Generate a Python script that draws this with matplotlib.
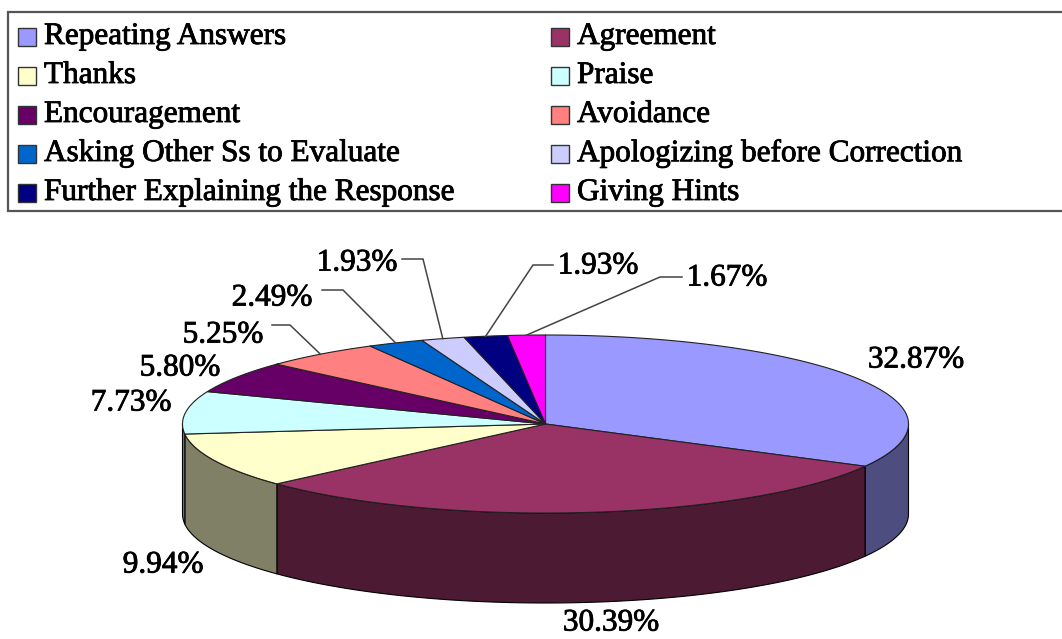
import numpy as np
import matplotlib
matplotlib.use("Agg")
import matplotlib.pyplot as plt
import matplotlib.patheffects as pe
from matplotlib.patches import Polygon, Rectangle
from matplotlib.colors import to_rgb

categories = ["Repeating Answers", "Agreement", "Thanks", "Praise", "Encouragement",
              "Avoidance", "Asking Other Ss to Evaluate", "Apologizing before Correction",
              "Further Explaining the Response", "Giving Hints"]
percents = [32.87, 30.39, 9.94, 7.73, 5.80, 5.25, 2.49, 1.93, 1.93, 1.67]
colors = ["#9999FF", "#993366", "#FFFFCC", "#CCFFFF", "#660066",
          "#FF8080", "#0066CC", "#CCCCFF", "#000080", "#FF00FF"]

# layout (pixels, y down)
CX, CY, RX, RY, DEPTH = 545.5, 424, 363, 89, 90
label_pos = [(916, 360), (611, 623), (163, 565), (131, 403), (180, 368),
             (223, 335), (272, 298), (357, 263), (598, 266), (727, 278)]
# leader lines: (stub x, elbow x, y of horizontal part) or None
leaders = [None, None, None, None, None,
           (272, 290, 325), (322, 343, 290), (402, 423, 259),
           (553, 533, 265), (682, 660, 277)]

plt.rcParams['font.family'] = ['Liberation Serif', 'DejaVu Serif']
thick = [pe.withStroke(linewidth=0.6, foreground='black')]

fig = plt.figure(figsize=(10.62, 6.39), dpi=100)
ax = fig.add_axes([0, 0, 1, 1])
ax.set_xlim(0, 1062)
ax.set_ylim(639, 0)
ax.axis('off')


def rim(t_deg, dy=0.0):
    t = np.radians(t_deg)
    return CX + RX * np.sin(t), CY - RY * np.cos(t) + dy


def darker(c):
    return tuple(v * 0.5 for v in to_rgb(c))


bounds = np.concatenate([[0], np.cumsum(percents)]) / 100 * 360

# side walls (front half only: 90..270 deg)
for i in range(len(percents)):
    a0, a1 = max(bounds[i], 90), min(bounds[i + 1], 270)
    if a1 <= a0:
        continue
    ts = np.linspace(a0, a1, 100)
    xt, yt = rim(ts)
    xb, yb = rim(ts[::-1], DEPTH)
    pts = np.column_stack([np.concatenate([xt, xb]), np.concatenate([yt, yb])])
    ax.add_patch(Polygon(pts, closed=True, facecolor=darker(colors[i]),
                         edgecolor='black', lw=0.8, joinstyle='round'))

# top faces
for i in range(len(percents)):
    ts = np.linspace(bounds[i], bounds[i + 1], 200)
    xt, yt = rim(ts)
    pts = np.column_stack([np.concatenate([[CX], xt]), np.concatenate([[CY], yt])])
    ax.add_patch(Polygon(pts, closed=True, facecolor=colors[i],
                         edgecolor='#222222', lw=0.8, joinstyle='round'))

# data labels + leader lines
for i, p in enumerate(percents):
    lx, ly = label_pos[i]
    ax.text(lx, ly, f"{p:.2f}%", fontsize=22.5, ha='center', va='center',
            color='black', path_effects=thick)
    if leaders[i] is not None:
        sx, ex, hy = leaders[i]
        mx, my = rim((bounds[i] + bounds[i + 1]) / 2)
        ax.plot([sx, ex, mx], [hy, hy, my], color='#444444', lw=1.1,
                solid_joinstyle='miter')

# legend box (two columns, row-major)
ax.add_patch(Rectangle((8, 12), 1070, 199, facecolor='white', edgecolor='#555555', lw=1.6))
col_x = [18, 551]
for k, name in enumerate(categories):
    row, col = divmod(k, 2)
    yc = 36.5 + 39 * row
    ax.add_patch(Rectangle((col_x[col], yc - 9), 18, 18, facecolor=colors[k],
                           edgecolor='#333333', lw=1.0))
    ax.text(col_x[col] + 26, yc, name, fontsize=22.5, ha='left', va='center',
            color='black', path_effects=thick)

fig.savefig("out.png", dpi=100)
